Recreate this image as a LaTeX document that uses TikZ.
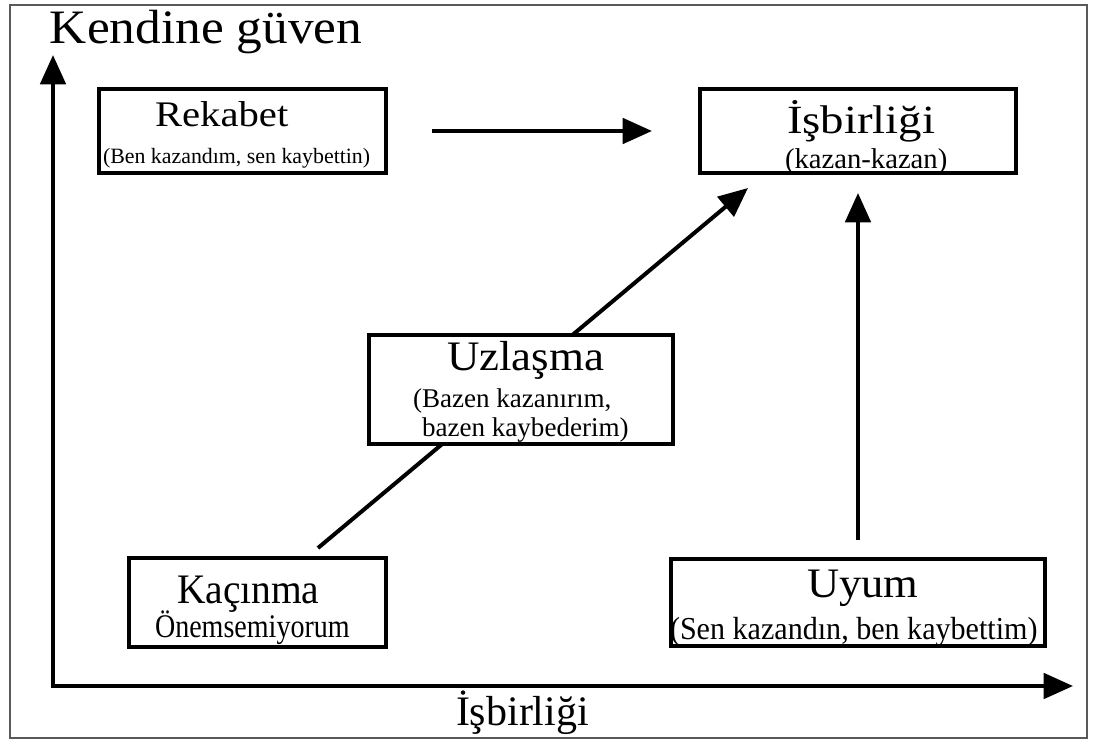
\documentclass[tikz,border=0pt]{standalone}
\usepackage{fontspec}
\setmainfont{Liberation Serif}
\usepackage{graphicx}
\usetikzlibrary{arrows.meta}
\newcommand{\fsz}[1]{\fontsize{#1}{#1}\selectfont}
\begin{document}
\begin{tikzpicture}[x=0.75pt,y=-0.75pt,
  box/.style={draw=black, line width=3pt, fill=white, inner sep=0, rectangle},
  lbl/.style={anchor=base west, inner sep=0, outer sep=0, text=black},
  tipst/.style={-{Triangle[length=22pt,width=19pt]}},
  arr/.style={line width=3pt, tipst},
  plain/.style={line width=3pt}]
\useasboundingbox (0,0) rectangle (1093,742);
% outer frame
\draw[draw=black!65, line width=1.5pt] (10,5) rectangle (1087,738);
% axes
\coordinate (o) at (53,686);
\coordinate (ytip) at (53,55);
\coordinate (xtip) at (1073,686);
\draw[line width=3pt, line join=miter, {Triangle[length=22pt,width=19pt]}-{Triangle[length=22pt,width=19pt]}] (ytip) -- (o) -- (xtip);
% diagonal line through Uzlasma
\coordinate (d1) at (318,548);
\coordinate (d2) at (748,188);
\draw[arr] (d1) -- (d2);
% boxes
\node[box, minimum width=215pt, minimum height=63pt] (rek) at (242.5,131) {};
\node[box, minimum width=237pt, minimum height=63pt] (isb) at (858,131) {};
\node[box, minimum width=228pt, minimum height=81.75pt] (uzl) at (521,389.5) {};
\node[box, minimum width=192.75pt, minimum height=66.75pt] (kac) at (257.5,602.5) {};
\node[box, minimum width=280.5pt, minimum height=65.25pt] (uyum) at (858,602.5) {};
% arrows between boxes
\draw[arr, shorten <=33pt, shorten >=34.5pt] (rek) -- (isb);
\draw[arr, shorten <=12.75pt, shorten >=13.5pt] (uyum) -- (isb);
% texts
\node[lbl] (yax) at (50,44) {\fsz{36}\scalebox{1.07}[1]{Kendine güven}};
\node[lbl] (xax) at (456,725) {\fsz{31.5}İşbirliği};
\node[lbl] (rekt) at (155,127) {\fsz{27}\scalebox{1.13}[1]{Rekabet}};
\node[lbl] (reks) at (103,163) {\fsz{16.4}(Ben kazandım, sen kaybettin)};
\node[lbl] (isbt) at (787,133) {\fsz{30}\scalebox{1.17}[1]{İşbirliği}};
\node[lbl] (isbs) at (785,168) {\fsz{21.5}(kazan-kazan)};
\node[lbl] (uzlt) at (447,370) {\fsz{31.5}\scalebox{1.07}[1]{Uzlaşma}};
\node[lbl] (uzls1) at (413,407) {\fsz{20.3}(Bazen kazanırım,};
\node[lbl] (uzls2) at (422,436) {\fsz{20.3}bazen kaybederim)};
\node[lbl] (kact) at (177,603) {\fsz{31.5}\scalebox{0.94}[1]{Kaçınma}};
\node[lbl] (kacs) at (155,637) {\fsz{24.75}\scalebox{0.85}[1]{Önemsemiyorum}};
\node[lbl] (uyumt) at (807,597) {\fsz{31.5}\scalebox{1.06}[1]{Uyum}};
\node[lbl] (uyums) at (670,639) {\fsz{24}\scalebox{0.94}[1]{(Sen kazandın, ben kaybettim)}};
\end{tikzpicture}
\end{document}
